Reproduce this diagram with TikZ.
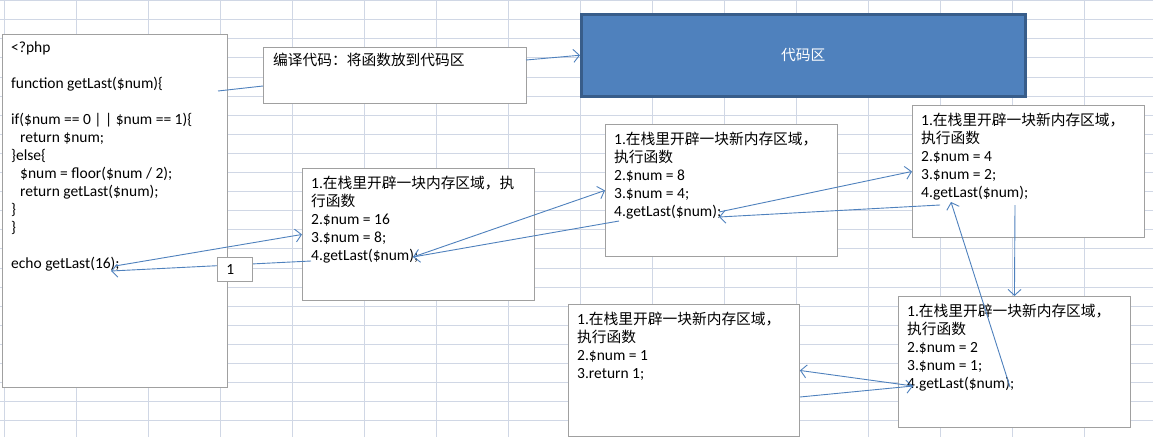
\documentclass[tikz,border=0pt]{standalone}
\usepackage{fontspec}
\setmainfont{Carlito}
\newfontfamily\cjk{Noto Sans CJK SC}[Scale=0.95]
\usetikzlibrary{arrows.meta}
\definecolor{gridline}{RGB}{208,215,229}
\definecolor{boxline}{RGB}{160,160,160}
\definecolor{linkblue}{RGB}{79,129,189}
\definecolor{areafill}{RGB}{79,129,189}
\definecolor{areaedge}{RGB}{56,93,138}
\newcommand{\zh}[1]{{\cjk #1}}
\begin{document}
\begin{tikzpicture}
[x=1pt,y=-1pt,
  gridDecorate/.style={draw=gridline,line width=0.8pt},
  boxDecorate/.style={draw=boxline,fill=white,line width=0.9pt,anchor=north west,inner sep=0pt},
  textDecorate/.style={anchor=north west,inner sep=0pt,align=left,font=\fontsize{15.5}{18}\selectfont},
  lineDecorate/.style={draw=linkblue,line width=0.9pt,-{Straight Barb[length=6pt,width=13pt]}}]
\useasboundingbox (0,0) rectangle (1153,437);
%% background grid
\foreach \k in {0,...,15} \draw[gridDecorate] (4+72*\k,0) -- (4+72*\k,437);
\foreach \k in {0,...,22} \draw[gridDecorate] (0,0.5+19.1*\k) -- (1153,0.5+19.1*\k);
%% boxes
\foreach \boxname/\x/\y/\w/\h in {
  code/2/34/225/353, compile/263/47/263/56, s1/302/168/232/132,
  s2/605/124/232/132, s3/912/105/232/132, s4/898/296/232/131,
  s5/568/304/231/132}
{
  \node (\boxname) at (\x,\y) [boxDecorate,minimum width=\w pt,minimum height=\h pt] {};
}
\node (area) at (580,13) [anchor=north west,fill=areafill,draw=areaedge,line width=2.5pt,
  minimum width=444pt,minimum height=82pt,text=white,font=\fontsize{15.5}{18}\selectfont] {\zh{代码区}};
%% texts
\node (code-text) at ([shift={(9,5.4)}]code.north west) [textDecorate] {\strut<?php\\
  \\
  function getLast(\$num)\{\\
  \\
  if(\$num == 0 | | \$num == 1)\{\\
  \hspace*{9pt}return \$num;\\
  \}else\{\\
  \hspace*{9pt}\$num = floor(\$num / 2);\\
  \hspace*{9pt}return getLast(\$num);\\
  \}\\
  \}\\
  \\
  echo getLast(16);};
\node (compile-text) at ([shift={(10,5.4)}]compile.north west) [textDecorate] {\strut\zh{编译代码：将函数放到代码区}};
\node (s1-text) at ([shift={(9,8)}]s1.north west) [textDecorate] {\strut1.\zh{在栈里开辟一块内存区域，执}\\
  \zh{行函数}\\2.\$num = 16\\3.\$num = 8;\\4.getLast(\$num);};
\foreach \boxname/\numa/\numb in {s2/8/4, s3/4/2, s4/2/1}
{
  \node (\boxname-text) at ([shift={(9,8)}]\boxname.north west) [textDecorate] {\strut1.\zh{在栈里开辟一块新内存区域，}\\
    \zh{执行函数}\\2.\$num = \numa\\3.\$num = \numb;\\4.getLast(\$num);};
}
\node (s5-text) at ([shift={(9,8)}]s5.north west) [textDecorate] {\strut1.\zh{在栈里开辟一块新内存区域，}\\
  \zh{执行函数}\\2.\$num = 1\\3.return 1;};
%% connector ends
\foreach \pointname/\x/\y in {
  codeOut/218/91, compileIn/263/86, compileOut/526/60, echoCall/115/266,
  echoBack/111/271, s1Back/311/261, s1Call/413/257, s2Back/619/221,
  s2Call/719/212, s2In/719/217, s3Back/940/205, s3Call/1015/205,
  s3In/951/202, s4Back/1010/387, s4Left/913/386, s5Out/800/397}
{
  \coordinate (\pointname) at (\x,\y);
}
%% connectors
\draw[draw=linkblue,line width=0.9pt] (codeOut) -- (compileIn);
\path
\foreach \startnode/\endnode in {
  compileOut/area.west, echoCall/s1.west, s1Back/echoBack, s1Call/s2.west,
  s2Back/s1Call, s2Call/s3.west, s3Back/s2In, s3Call/s4.north,
  s4Back/s3In, s4Left/s5.east, s5Out/s4Left}
{
  (\startnode) edge[lineDecorate] (\endnode)
};
%% label on the return line
\node (one) at (217,257) [boxDecorate,minimum height=24pt,text width=17pt,inner xsep=9pt,align=left,
  font=\fontsize{15.5}{18}\selectfont] {1};
\end{tikzpicture}
\end{document}
